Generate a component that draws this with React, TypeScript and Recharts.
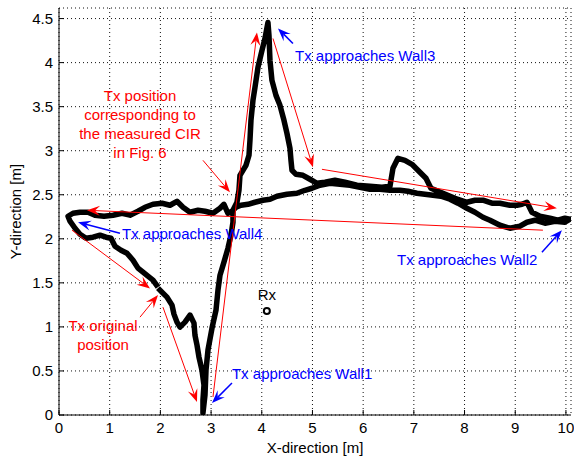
import React from 'react';
import {
  LineChart,
  Line,
  XAxis,
  YAxis,
  CartesianGrid,
  ReferenceLine,
  ReferenceDot,
} from 'recharts';

type Pt = [number, number];

const xTicks = [0, 1, 2, 3, 4, 5, 6, 7, 8, 9, 10];
const yTicks = [0, 0.5, 1, 1.5, 2, 2.5, 3, 3.5, 4, 4.5];

// trajectory in order of travel
const startToWall1: Pt[] = [
  [1.953, 1.44], [2.05, 1.383], [2.13, 1.338], [2.229, 1.247], [2.268, 1.145],
  [2.327, 1.054], [2.387, 0.998], [2.485, 1.054], [2.584, 1.134], [2.663, 1.043],
  [2.682, 0.907], [2.722, 0.794], [2.761, 0.658], [2.82, 0.51], [2.86, 0.34],
  [2.84, 0.17], [2.84, 0.023],
];

const wall1ToWall3: Pt[] = [
  [2.88, 0.227], [2.9, 0.51], [2.939, 0.737], [3.018, 0.986], [3.097, 1.19],
  [3.136, 1.417], [3.176, 1.587], [3.254, 1.735], [3.333, 1.893], [3.393, 2.041],
  [3.432, 2.188], [3.432, 2.324], [3.511, 2.415], [3.55, 2.551], [3.57, 2.721],
  [3.688, 2.834], [3.748, 2.948], [3.767, 3.118], [3.787, 3.345], [3.826, 3.571],
  [3.866, 3.719], [3.925, 3.946], [4.004, 4.138], [4.063, 4.274], [4.122, 4.456],
  [4.142, 4.308], [4.162, 4.025], [4.201, 3.798], [4.28, 3.628], [4.359, 3.515],
  [4.438, 3.345], [4.497, 3.197], [4.556, 3.027], [4.576, 2.891], [4.596, 2.778],
  [4.675, 2.732], [4.813, 2.721], [4.951, 2.676], [5.089, 2.63],
];

const wall3ToWall2: Pt[] = [
  [5.247, 2.642], [5.444, 2.664], [5.641, 2.642], [5.878, 2.608], [6.134, 2.596],
  [6.371, 2.585], [6.529, 2.596], [6.588, 2.8], [6.686, 2.914], [6.824, 2.891],
  [6.963, 2.846], [7.12, 2.755], [7.239, 2.687], [7.337, 2.574], [7.574, 2.517],
  [7.811, 2.46], [8.047, 2.415], [8.205, 2.438], [8.363, 2.438], [8.54, 2.404],
  [8.698, 2.404], [8.895, 2.381], [9.034, 2.381], [9.132, 2.392], [9.231, 2.415],
  [9.329, 2.302], [9.487, 2.256], [9.684, 2.234], [9.842, 2.211], [9.98, 2.234],
  [10.079, 2.222],
];

const wall2ToWall4: Pt[] = [
  [9.98, 2.188], [9.783, 2.2], [9.586, 2.177], [9.389, 2.211], [9.231, 2.188],
  [9.093, 2.143], [8.895, 2.12], [8.698, 2.154], [8.501, 2.211], [8.363, 2.245],
  [8.205, 2.302], [8.047, 2.347], [7.87, 2.404], [7.712, 2.449], [7.535, 2.483],
  [7.377, 2.494], [7.219, 2.506], [7.061, 2.517], [6.884, 2.54], [6.726, 2.551],
  [6.529, 2.551], [6.331, 2.562], [6.134, 2.562], [5.937, 2.585], [5.74, 2.608],
  [5.542, 2.619], [5.345, 2.63], [5.148, 2.608], [4.99, 2.574], [4.852, 2.551],
  [4.694, 2.517], [4.497, 2.506], [4.3, 2.483], [4.162, 2.449], [4.024, 2.438],
  [3.866, 2.415], [3.728, 2.392], [3.59, 2.381], [3.491, 2.358], [3.412, 2.313],
  [3.333, 2.29], [3.254, 2.392], [3.176, 2.347], [3.037, 2.29], [2.88, 2.313],
  [2.742, 2.324], [2.584, 2.302], [2.446, 2.358], [2.327, 2.426], [2.189, 2.381],
  [2.032, 2.404], [1.854, 2.392], [1.696, 2.358], [1.558, 2.313], [1.4, 2.268],
  [1.243, 2.29], [1.065, 2.268], [0.888, 2.256], [0.71, 2.268], [0.572, 2.302],
  [0.414, 2.302], [0.276, 2.29], [0.178, 2.256],
];

const wall4ToStart: Pt[] = [
  [0.217, 2.2], [0.316, 2.12], [0.414, 2.052], [0.533, 2.007], [0.671, 2.018],
  [0.809, 2.041], [0.927, 2.018], [1.026, 2.007], [1.105, 1.916], [1.223, 1.871],
  [1.341, 1.837], [1.46, 1.757], [1.558, 1.667], [1.657, 1.621], [1.755, 1.576],
  [1.854, 1.531], [1.953, 1.451],
];

// [x1, y1, x2, y2], head at the second point
const redArrows = [
  [0.256, 2.098, 1.795, 1.437],
  [1.598, 1.111, 1.953, 1.361],
  [2.051, 1.224, 2.722, 0.147],
  [3.037, 0.204, 3.905, 4.342],
  [4.221, 4.274, 5.01, 2.812],
  [5.187, 2.789, 9.822, 2.347],
  [9.546, 2.098, 0.552, 2.324],
  [2.84, 2.891, 3.373, 2.528],
];

const blueArrows = [
  [4.615, 4.218, 4.32, 4.388],
  [1.203, 2.063, 0.375, 2.188],
  [9.527, 1.848, 9.921, 2.098],
  [3.412, 0.363, 3.018, 0.136],
];

const blueNotes = [
  { x: 4.655, y: 4.082, text: 'Tx approaches Wall3' },
  { x: 1.243, y: 2.063, text: 'Tx approaches Wall4' },
  { x: 6.667, y: 1.769, text: 'Tx approaches Wall2' },
  { x: 3.412, y: 0.476, text: 'Tx approaches Wall1' },
];

const redNotes = [
  { x: 1.598, y: 3.628, lines: ['Tx position', 'corresponding to', 'the measured CIR', 'in Fig. 6'] },
  { x: 0.868, y: 1.02, lines: ['Tx original', 'position'] },
];

const rx = { x: 4.1, y: 1.18, label: 'Rx' };

const track = [...startToWall1, ...wall1ToWall3, ...wall3ToWall2, ...wall2ToWall4, ...wall4ToStart]
  .map(([x, y]) => ({ x, y }));

const FONT = '"Liberation Sans", Arial, Helvetica, sans-serif';
const tickStyle = { fill: '#000', fontSize: 15, fontFamily: FONT };

const arrowShape = (color: string, width: number) => (props: any) => {
  const { x1, y1, x2, y2 } = props;
  const a = Math.atan2(y2 - y1, x2 - x1);
  const c = Math.cos(a);
  const s = Math.sin(a);
  const L = 13, W = 5, N = 8;
  const p = (dx: number, dy: number) => `${x2 + dx * c - dy * s},${y2 + dx * s + dy * c}`;
  return (
    <g>
      <line x1={x1} y1={y1} x2={x2 - N * c} y2={y2 - N * s} stroke={color} strokeWidth={width} />
      <polygon points={[p(0, 0), p(-L, W), p(-N, 0), p(-L, -W)].join(' ')} fill={color} />
    </g>
  );
};

export default function App() {
  return (
    <div style={{ position: 'absolute', left: 0, top: 0, background: '#fff' }}>
      <LineChart
        width={574}
        height={459}
        data={track}
        margin={{ top: 8, right: 3, bottom: 0, left: 0 }}
        style={{ fontFamily: FONT }}
      >
        <CartesianGrid stroke="#111" strokeDasharray="1 3" />
        <XAxis
          dataKey="x"
          type="number"
          domain={[0, 10.1]}
          ticks={xTicks}
          interval={0}
          allowDataOverflow
          height={44}
          stroke="#000"
          tick={tickStyle}
          tickSize={-5}
          tickMargin={12}
          label={{ value: 'X-direction [m]', position: 'insideBottom', offset: 6, fill: '#000', fontSize: 15 }}
        />
        <XAxis
          xAxisId="top"
          orientation="top"
          type="number"
          domain={[0, 10.1]}
          ticks={xTicks}
          interval={0}
          allowDataOverflow
          height={0}
          stroke="#000"
          tick={false}
          tickSize={-5}
        />
        <YAxis
          type="number"
          domain={[0, 4.62]}
          ticks={yTicks}
          interval={0}
          allowDataOverflow
          width={59}
          stroke="#000"
          tick={tickStyle}
          tickSize={-5}
          tickMargin={11}
          label={{
            content: ({ viewBox }: any) => (
              <text
                x={viewBox.x + 15}
                y={viewBox.y + viewBox.height / 2}
                transform={`rotate(-90, ${viewBox.x + 15}, ${viewBox.y + viewBox.height / 2})`}
                textAnchor="middle"
                dominantBaseline="central"
                fontSize={15}
                fill="#000"
              >
                Y-direction [m]
              </text>
            ),
          }}
        />
        <YAxis
          yAxisId="right"
          orientation="right"
          type="number"
          domain={[0, 4.62]}
          ticks={yTicks}
          interval={0}
          allowDataOverflow
          width={0}
          stroke="#000"
          tick={false}
          tickSize={-5}
        />
        <Line
          dataKey="y"
          type="linear"
          stroke="#000"
          strokeWidth={5.5}
          strokeLinejoin="round"
          dot={false}
          isAnimationActive={false}
        />
        {redArrows.map((a, i) => (
          <ReferenceLine
            key={`r${i}`}
            segment={[{ x: a[0], y: a[1] }, { x: a[2], y: a[3] }]}
            shape={arrowShape('#ff0000', 1)}
          />
        ))}
        {blueArrows.map((a, i) => (
          <ReferenceLine
            key={`b${i}`}
            segment={[{ x: a[0], y: a[1] }, { x: a[2], y: a[3] }]}
            shape={arrowShape('#0000ff', 1.5)}
          />
        ))}
        {blueNotes.map((n, i) => (
          <ReferenceDot
            key={`bn${i}`}
            x={n.x}
            y={n.y}
            r={0}
            shape={(p: any) => (
              <text x={p.cx} y={p.cy} dominantBaseline="central" fontSize={15} fill="#0000ff">
                {n.text}
              </text>
            )}
          />
        ))}
        {redNotes.map((n, i) => (
          <ReferenceDot
            key={`rn${i}`}
            x={n.x}
            y={n.y}
            r={0}
            shape={(p: any) => (
              <text x={p.cx} y={p.cy} textAnchor="middle" dominantBaseline="central" fontSize={15} fill="#ff0000">
                {n.lines.map((l, j) => (
                  <tspan key={j} x={p.cx} dy={j === 0 ? 0 : 19}>{l}</tspan>
                ))}
              </text>
            )}
          />
        ))}
        <ReferenceDot
          x={rx.x}
          y={rx.y}
          r={3}
          fill="#fff"
          stroke="#000"
          strokeWidth={2}
          label={{ value: rx.label, position: 'top', offset: 8, fontSize: 15, fill: '#000' }}
        />
      </LineChart>
    </div>
  );
}
